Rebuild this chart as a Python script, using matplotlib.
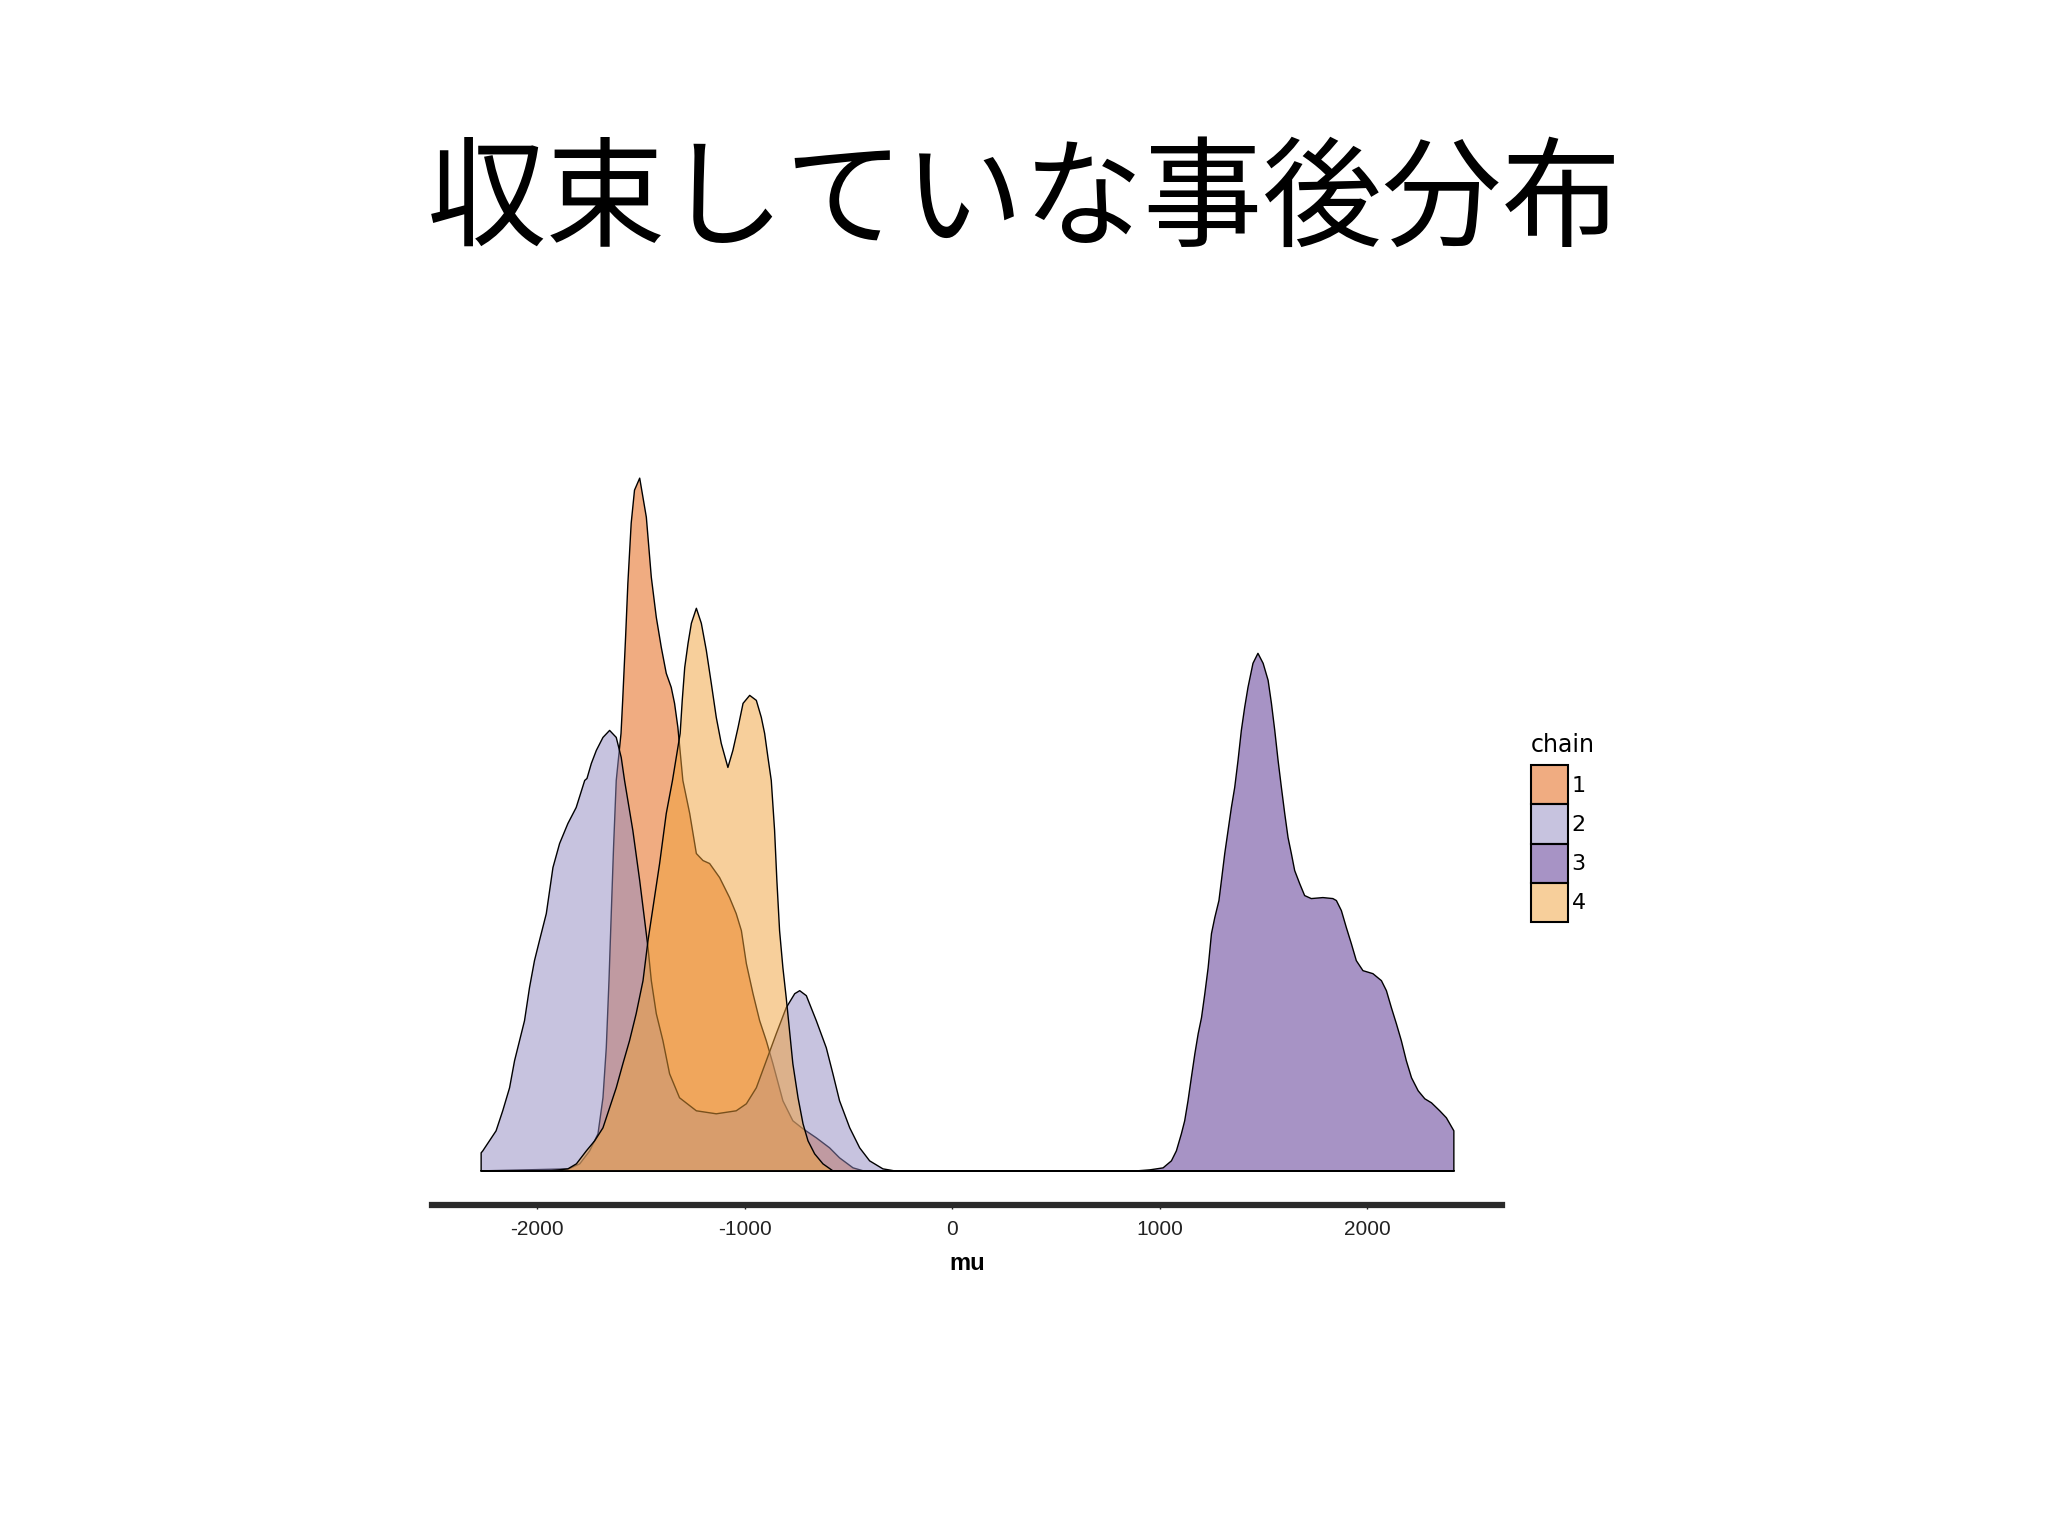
import numpy as np
import matplotlib
matplotlib.use("Agg")
import matplotlib.pyplot as plt
from matplotlib.patches import Patch
from matplotlib.colors import to_rgba

# 読み取った密度（相対値、ベースライン=0）
chain1_x = [-1850, -1797, -1749, -1709, -1685, -1669, -1656, -1645, -1634, -1621,
            -1598, -1590, -1576, -1565, -1549, -1533, -1508, -1476, -1452, -1428,
            -1404, -1380, -1356, -1340, -1324, -1300, -1267, -1235, -1203, -1171,
            -1123, -1075, -1043, -1018, -994, -962, -930, -898, -866, -818,
            -770, -721, -657, -593, -545, -480, -430]
chain1_y = [2, 7, 20, 37, 73, 123, 190, 257, 323, 390,
            437, 470, 533, 587, 647, 680, 692, 653, 593, 553,
            523, 497, 483, 467, 443, 390, 357, 317, 310, 307,
            293, 273, 257, 240, 207, 177, 150, 130, 107, 70,
            50, 42, 33, 23, 13, 3, 0]

chain2_x = [-2272, -2264, -2232, -2200, -2168, -2135, -2111, -2087, -2063, -2039,
            -2015, -1991, -1958, -1942, -1926, -1894, -1854, -1814, -1773, -1762,
            -1741, -1717, -1685, -1653, -1621, -1597, -1581, -1541, -1508, -1484,
            -1468, -1452, -1428, -1396, -1364, -1316, -1235, -1139, -1043, -994,
            -946, -898, -850, -802, -761, -737, -705, -657, -609, -577,
            -545, -496, -448, -400, -336, -280]
chain2_y = [18, 20, 30, 40, 60, 83, 110, 130, 150, 183,
            210, 230, 257, 280, 303, 327, 347, 363, 390, 392,
            407, 420, 433, 440, 433, 413, 390, 340, 290, 250,
            223, 190, 157, 130, 97, 73, 60, 57, 60, 67,
            83, 110, 137, 163, 177, 180, 175, 150, 123, 97,
            70, 43, 23, 10, 2, 0]

chain3_x = [886, 950, 1014, 1054, 1078, 1102, 1118, 1134, 1150, 1167,
            1183, 1199, 1215, 1231, 1247, 1263, 1283, 1295, 1311, 1327,
            1343, 1359, 1375, 1391, 1407, 1423, 1447, 1471, 1496, 1520,
            1536, 1552, 1568, 1584, 1600, 1616, 1632, 1648, 1672, 1696,
            1728, 1784, 1832, 1849, 1873, 1897, 1921, 1945, 1977, 2025,
            2066, 2090, 2114, 2138, 2162, 2186, 2211, 2243, 2275, 2307,
            2347, 2379, 2415]
chain3_y = [0, 1, 3, 10, 20, 37, 50, 70, 93, 117,
            137, 153, 177, 203, 237, 253, 270, 290, 317, 340,
            363, 383, 410, 440, 463, 483, 507, 517, 507, 490,
            467, 440, 410, 383, 357, 333, 317, 300, 287, 275,
            272, 273, 272, 270, 260, 243, 227, 210, 200, 197,
            190, 180, 163, 147, 130, 110, 93, 80, 72, 68,
            60, 53, 40]

chain4_x = [-1942, -1854, -1813, -1765, -1725, -1685, -1653, -1621, -1589, -1557,
            -1525, -1492, -1468, -1444, -1412, -1380, -1350, -1313, -1303, -1291,
            -1275, -1259, -1235, -1211, -1187, -1163, -1139, -1115, -1083, -1059,
            -1034, -1010, -978, -946, -922, -906, -890, -874, -858, -847,
            -834, -818, -802, -786, -770, -745, -721, -697, -665, -625,
            -577]
chain4_y = [0, 2, 7, 20, 30, 43, 63, 83, 107, 130,
            157, 190, 230, 263, 307, 357, 390, 437, 470, 503,
            527, 547, 562, 547, 520, 487, 453, 427, 403, 420,
            443, 467, 475, 470, 453, 437, 413, 390, 340, 290,
            240, 203, 173, 140, 107, 73, 47, 30, 17, 7,
            0]

chains = ["1", "2", "3", "4"]
colors = ["#E25A04", "#9189C1", "#51298D", "#F1A139"]
xs = [chain1_x, chain2_x, chain3_x, chain4_x]
ys = [chain1_y, chain2_y, chain3_y, chain4_y]
x_ticks = [-2000, -1000, 0, 1000, 2000]

fig = plt.figure(figsize=(20.48, 15.36), dpi=100)
fig.patch.set_facecolor("white")

fig.text(0.5, 1 - 203 / 1536, "収束していな事後分布", ha="center", va="center",
         fontsize=86, family=["Noto Sans CJK JP", "DejaVu Sans"])

ax = fig.add_axes([432 / 2048, 1 - 1205 / 1536, 1070 / 2048, 762 / 1536])

xmin = min(min(x) for x in xs)
xmax = max(max(x) for x in xs)
for x, y, c in zip(xs, ys, colors):
    # 全範囲で密度を計算したように両端を0でつなぐ
    xx = np.concatenate([[xmin], x, [xmax]])
    yy = np.concatenate([[0], y, [0]])
    ax.fill_between(xx, yy, 0, facecolor=to_rgba(c, 0.5), edgecolor="black",
                    linewidth=1.0)

ax.margins(x=0.05, y=0.05)
for s in ["top", "left", "right"]:
    ax.spines[s].set_visible(False)
ax.spines["bottom"].set_linewidth(4.5)
ax.spines["bottom"].set_color("#2a2a2a")
ax.set_yticks([])
ax.set_xticks(x_ticks)
ax.set_xticklabels([str(t) for t in x_ticks],
                   family=["Liberation Sans Narrow", "Liberation Sans"])
ax.tick_params(axis="x", length=3, width=1, pad=8, labelsize=15, colors="#222222")
ax.set_xlabel("mu", fontsize=17, fontweight="bold", labelpad=9,
              family=["Liberation Sans Narrow", "Liberation Sans"])
ax.set_facecolor("white")

handles = [Patch(facecolor=to_rgba(c, 0.5), edgecolor="black", linewidth=1.5)
           for c in colors]
leg = ax.legend(handles, chains, title="chain", loc="upper left",
                bbox_to_anchor=(1531 / 2048, 1 - 733 / 1536),
                bbox_transform=fig.transFigure, frameon=False,
                borderaxespad=0, borderpad=0, labelspacing=0,
                handlelength=1.67, handleheight=2.33, handletextpad=0.15,
                fontsize=16, title_fontsize=17, alignment="left")
leg._legend_box.sep = 6

fig.savefig("out.png", dpi=100, facecolor="white")
